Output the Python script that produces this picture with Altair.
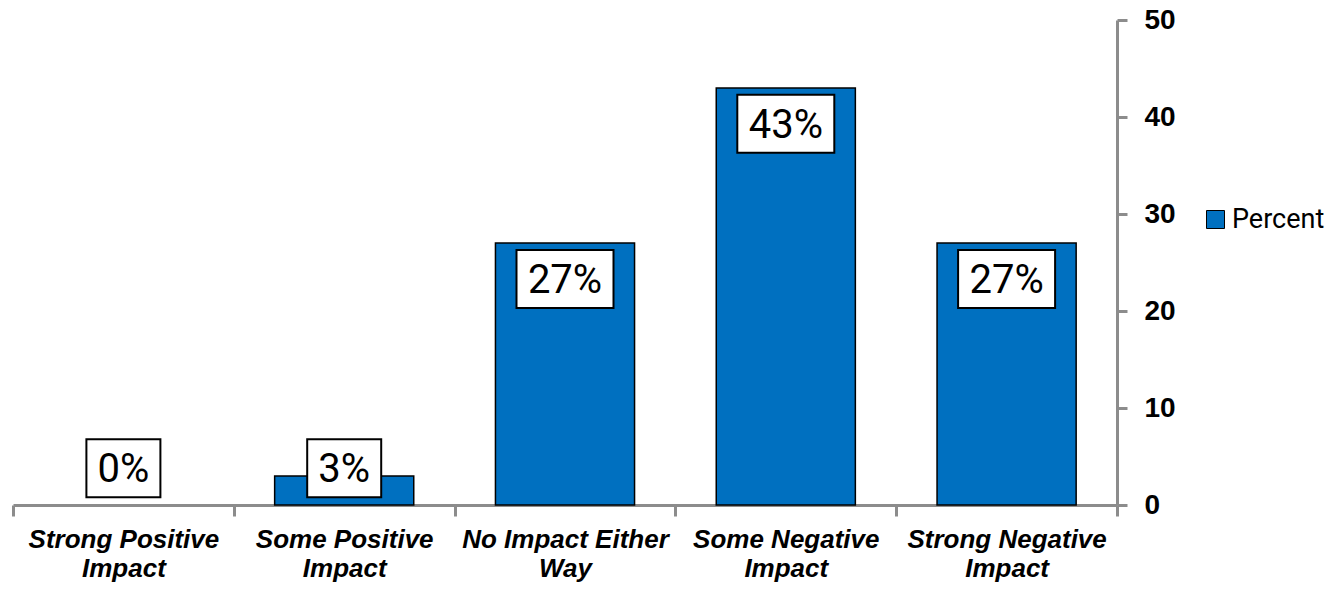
import altair as alt
import pandas as pd

# Survey responses: share of respondents per expected impact
categories = [
    "Strong Positive Impact",
    "Some Positive Impact",
    "No Impact Either Way",
    "Some Negative Impact",
    "Strong Negative Impact",
]
percent = [0, 3, 27, 43, 27]
series_name = "Percent"
y_ticks = [0, 10, 20, 30, 40, 50]

df = pd.DataFrame({"category": categories, "percent": percent})
df["series"] = series_name
df["label"] = [f"{v}%" for v in percent]
# value labels sit just inside the bar end, but never below the baseline
df["label_pos"] = [max(v - 3.7, 3.8) for v in percent]
df["wide"] = df["label"].str.len() > 2

BLUE = "#0070C0"
AXIS_GRAY = "#8C8C8C"

# break each category name onto two lines at its last space
split_expr = (
    "[slice(datum.label, 0, lastindexof(datum.label, ' ')), "
    "slice(datum.label, lastindexof(datum.label, ' ') + 1)]"
)

x_enc = alt.X(
    "category:N",
    sort=categories,
    title=None,
    scale=alt.Scale(domain=categories, paddingInner=0, paddingOuter=0),
    axis=alt.Axis(
        orient="bottom",
        tickBand="extent",
        labelAngle=0,
        domainColor=AXIS_GRAY,
        domainWidth=3,
        tickColor=AXIS_GRAY,
        tickWidth=3,
        tickSize=11,
        labelFont="Liberation Sans",
        labelFontSize=26,
        labelFontStyle="italic",
        labelFontWeight="bold",
        labelColor="black",
        labelPadding=10,
        labelBaseline="top",
        labelLineHeight=29,
        labelLimit=400,
        labelOverlap=False,
        labelExpr=split_expr,
    ),
)

y_scale = alt.Scale(domain=[0, 50], nice=False)
y_axis = alt.Axis(
    orient="right",
    values=y_ticks,
    title=None,
    grid=False,
    domainColor=AXIS_GRAY,
    domainWidth=3,
    tickColor=AXIS_GRAY,
    tickWidth=3,
    tickSize=10,
    labelFont="Liberation Sans",
    labelFontWeight="bold",
    labelFontSize=28,
    labelColor="black",
    labelPadding=17,
    labelAlign="left",
)

base = alt.Chart(df)

bars = (
    base.mark_bar(width=alt.RelativeBandSize(0.63), stroke="black", strokeWidth=1.5)
    .encode(
        x=x_enc,
        y=alt.Y("percent:Q", scale=y_scale, axis=y_axis),
        color=alt.Color(
            "series:N",
            scale=alt.Scale(range=[BLUE]),
            legend=alt.Legend(
                title=None,
                orient="none",
                legendX=1189,
                legendY=186,
                symbolType="square",
                symbolSize=324,
                symbolFillColor=BLUE,
                symbolStrokeColor="black",
                symbolStrokeWidth=1,
                labelFont="Roboto",
                labelFontSize=27,
                labelColor="black",
                labelOffset=3,
                padding=0,
            ),
        ),
    )
    .transform_filter("datum.percent > 0")
)

label_y = alt.Y("label_pos:Q", scale=y_scale, axis=y_axis)

narrow_box = (
    base.transform_filter("!datum.wide")
    .mark_point(
        shape="M-1,-0.784L1,-0.784L1,0.784L-1,0.784Z",
        size=74 * 74,
        filled=True,
        fill="white",
        stroke="black",
        strokeWidth=2,
        opacity=1,
    )
    .encode(x=x_enc, y=label_y)
)

wide_box = (
    base.transform_filter("datum.wide")
    .mark_point(
        shape="M-1,-0.598L1,-0.598L1,0.598L-1,0.598Z",
        size=97 * 97,
        filled=True,
        fill="white",
        stroke="black",
        strokeWidth=2,
        opacity=1,
    )
    .encode(x=x_enc, y=label_y)
)

labels = base.mark_text(
    font="Roboto", fontSize=40, color="black", baseline="middle", dy=2
).encode(x=x_enc, y=label_y, text="label:N")

chart = (
    alt.layer(bars, narrow_box, wide_box, labels)
    .properties(
        width=1104,
        height=485,
        padding={"left": 13, "top": 20, "right": 226, "bottom": 86},
        autosize=alt.AutoSizeParams(type="none"),
        background="white",
    )
    .configure_view(stroke=None)
)

chart.save("out.html", embed_options={"renderer": "svg", "actions": False})
